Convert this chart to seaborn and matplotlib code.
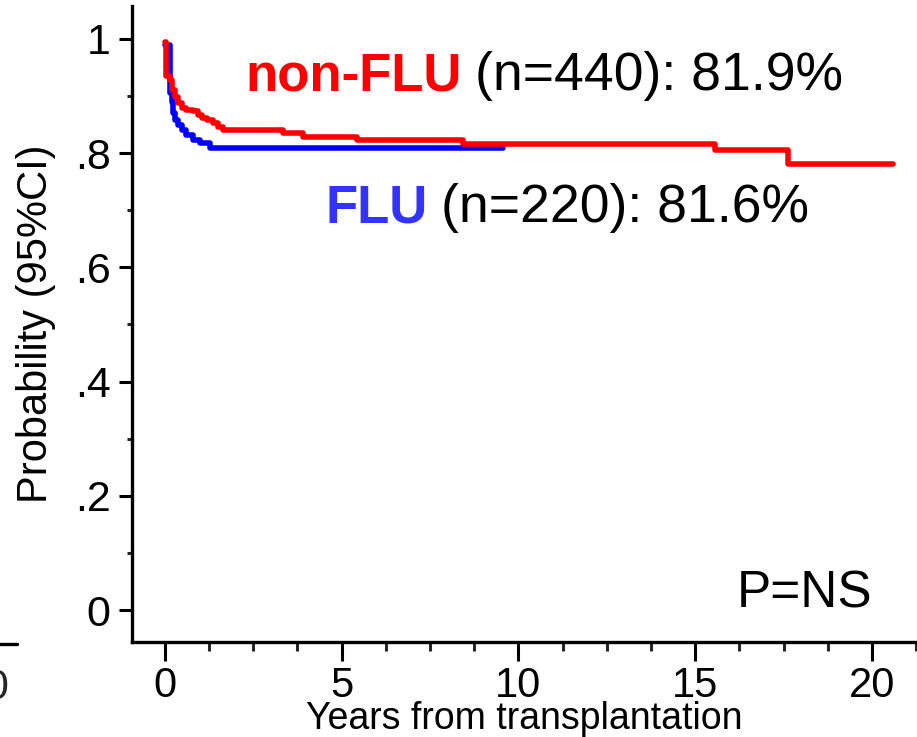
import matplotlib
matplotlib.use("Agg")
import matplotlib.pyplot as plt
from matplotlib.ticker import AutoMinorLocator, FixedLocator, FixedFormatter
from matplotlib.lines import Line2D
import pandas as pd
import seaborn as sns

# Kaplan-Meier style survival estimates by conditioning group
flu_years = [0.0, 0.09, 0.14, 0.19, 0.24, 0.28, 0.38, 0.47, 0.61, 0.80, 0.99, 1.27, 9.56]
flu_prob = [0.990, 0.989, 0.905, 0.890, 0.870, 0.858, 0.849, 0.841, 0.832, 0.823, 0.817, 0.809, 0.809]

nonflu_years = [0.0, 0.04, 0.14, 0.19, 0.28, 0.38, 0.47, 0.61, 0.80, 0.94, 1.04, 1.18,
                1.37, 1.51, 1.65, 3.35, 3.91, 5.42, 8.44, 15.56, 17.62, 20.59]
nonflu_prob = [0.994, 0.935, 0.928, 0.911, 0.899, 0.887, 0.879, 0.876, 0.873, 0.867, 0.861, 0.858,
               0.852, 0.846, 0.841, 0.835, 0.828, 0.823, 0.816, 0.805, 0.781, 0.781]

group_names = ["FLU", "non-FLU"]
group_n = [220, 440]
group_pct = ["81.6%", "81.9%"]

y_tick_values = [0, 0.2, 0.4, 0.6, 0.8, 1.0]
y_tick_labels = ["0", ".2", ".4", ".6", ".8", "1"]
x_tick_values = [0, 5, 10, 15, 20]

df = pd.concat([
    pd.DataFrame({"years": flu_years, "prob": flu_prob, "group": "FLU"}),
    pd.DataFrame({"years": nonflu_years, "prob": nonflu_prob, "group": "non-FLU"}),
], ignore_index=True)

sns.set_theme(style="ticks")
plt.rcParams["font.family"] = ["Liberation Sans", "DejaVu Sans"]

W, H = 917, 737
fig = plt.figure(figsize=(W / 100, H / 100), dpi=100)
ax = fig.add_axes([132 / W, 1 - 642 / H, (W - 132) / W, (642 - 5.7) / H])

sns.lineplot(data=df, x="years", y="prob", hue="group", hue_order=group_names,
             palette={"FLU": "#0000ff", "non-FLU": "#ff0000"},
             drawstyle="steps-post", estimator=None, sort=False,
             linewidth=4.0, legend=False, ax=ax)

ax.set_xlim(-0.93, 21.27)
ax.set_ylim(-0.056, 1.058)

for side in ("top", "right"):
    ax.spines[side].set_visible(False)
for side in ("left", "bottom"):
    ax.spines[side].set_linewidth(2.4)
    ax.spines[side].set_color("black")

ax.xaxis.set_major_locator(FixedLocator(x_tick_values))
ax.xaxis.set_minor_locator(AutoMinorLocator(4))
ax.yaxis.set_major_locator(FixedLocator(y_tick_values))
ax.yaxis.set_major_formatter(FixedFormatter(y_tick_labels))
ax.yaxis.set_minor_locator(AutoMinorLocator(2))

ax.tick_params(axis="x", which="major", length=13.5, width=2.2, pad=4, labelsize=30, colors="black")
ax.tick_params(axis="x", which="minor", length=6.5, width=2.2)
ax.tick_params(axis="y", which="major", length=9.4, width=2.2, pad=6, labelsize=31, colors="black")
ax.tick_params(axis="y", which="minor", length=3.6, width=2.2)

ax.set_xlabel("Years from transplantation", fontsize=27, color="black")
ax.xaxis.set_label_coords(0.5, -0.092)
ax.set_ylabel("Probability (95%CI)", fontsize=30, color="black")
ax.yaxis.label.set_va("center")
ax.yaxis.set_label_coords(-0.122, 0.50)

# group annotations: bold coloured name followed by sample size and estimate
label_pos = {"non-FLU": (0.144, 0.8675, "#ff0000"), "FLU": (0.246, 0.660, "#3333ff")}
for name, n, pct in zip(group_names, group_n, group_pct):
    x0, y0, col = label_pos[name]
    t1 = ax.text(x0, y0, name, transform=ax.transAxes, fontsize=38, fontweight="bold",
                 color=col, ha="left", va="baseline")
    ax.annotate(f"(n={n}): {pct}", xy=(1, 0), xycoords=t1, xytext=(14, 0),
                textcoords="offset pixels", fontsize=38.5, color="black",
                ha="left", va="bottom")

ax.text(0.943, 0.055, "P=NS", transform=ax.transAxes, fontsize=37, color="black",
        ha="right", va="baseline")

# edge of the neighbouring panel
fig.add_artist(Line2D([0, 17 / W], [1 - 643.5 / H, 1 - 643.5 / H], color="black",
                      linewidth=2.4, transform=fig.transFigure))
fig.text(-4 / W, 1 - 688 / H, "0", fontsize=31, ha="center", va="center")

fig.savefig("out.png", dpi=100)
